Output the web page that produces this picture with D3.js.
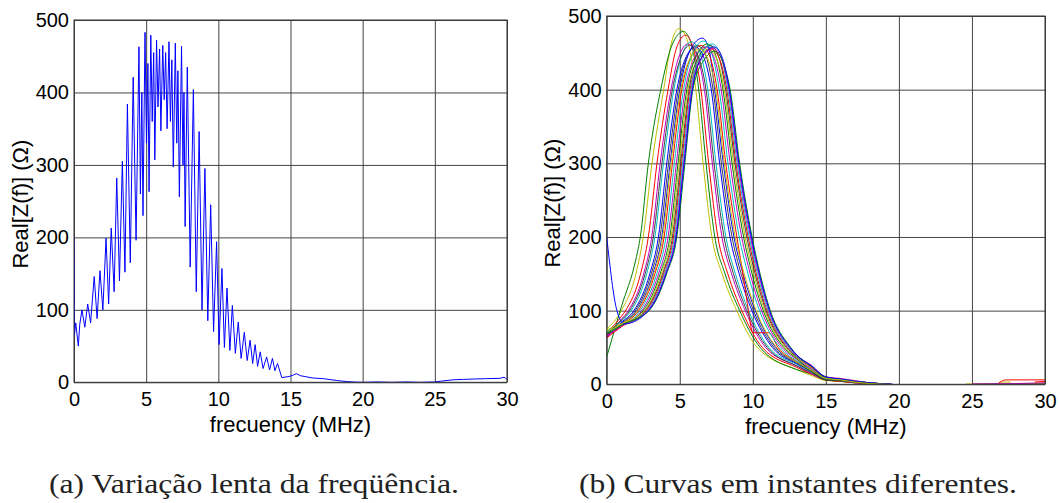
<!DOCTYPE html>
<html>
<head>
<meta charset="utf-8">
<script src="https://cdn.jsdelivr.net/npm/d3@7"></script>
<style>
body{margin:0;background:#fff;}
svg{display:block;}
.tick text{font-family:"Liberation Sans",Arial,sans-serif;font-size:20px;fill:#000;}
.lbl{font-family:"Liberation Sans",Arial,sans-serif;font-size:22px;fill:#000;}
.cap{font-family:"Liberation Serif","DejaVu Serif",serif;font-size:28px;fill:#222;}
</style>
</head>
<body>
<svg id="fig" width="1060" height="503"></svg>
<script>
// axis ticks and texts
const xTicks = [0, 5, 10, 15, 20, 25, 30];
const yTicks = [0, 100, 200, 300, 400, 500];
const xLabel = "frecuency (MHz)";
const yLabel = "Real[Z(f)] (Ω)";
const captions = ["(a) Variação lenta da freqüência.", "(b) Curvas em instantes diferentes."];

const slowSweep = [
  [0,200],[0.03,65],[0.12,82],[0.3,50],[0.4,80],[0.55,100],[0.75,76],[0.95,108],[1.15,82],[1.4,146],
  [1.6,88],[1.8,154],[2.0,100],[2.22,199],[2.4,108],[2.58,213],[2.78,125],[2.96,282],[3.15,140],[3.35,305],
  [3.53,152],[3.7,384],[3.9,165],[4.1,421],[4.3,196],[4.5,463],[4.6,260],[4.7,400],[4.78,230],[4.92,483],
  [5.02,330],[5.12,440],[5.2,263],[5.32,479],[5.42,360],[5.52,455],[5.6,307],[5.72,472],[5.82,380],[5.93,460],
  [6.02,347],[6.15,465],[6.25,390],[6.35,455],[6.45,350],[6.58,470],[6.68,360],[6.78,445],[6.88,297],[7.02,468],
  [7.12,330],[7.2,430],[7.3,256],[7.45,464],[7.55,300],[7.62,400],[7.7,215],[7.85,435],[8.05,159],[8.27,404],
  [8.47,125],[8.67,346],[8.87,100],[9.07,295],[9.27,85],[9.47,245],[9.67,70],[9.88,194],[10.05,52],[10.25,157],
  [10.42,48],[10.6,130],[10.8,44],[10.97,106],[11.18,40],[11.38,83],[11.58,33],[11.8,69],[12.0,30],[12.2,58],
  [12.38,26],[12.55,52],[12.72,22],[12.9,42],[13.1,19],[13.35,35],[13.55,17],[13.75,33],[13.92,16],[14.1,26],
  [14.4,6.5],[14.9,8],[15.2,10],[15.4,12],[15.7,9],[16.0,8],[16.5,6],[17.3,5],[18.2,2.5],[18.9,1],
  [19.5,0.3],[20,0],[21,0.5],[22,0],[23,0.5],[24,0],[25,0.5],[25.4,1.5],[26.3,3.5],[27,4],
  [27.7,4.5],[28.5,5],[29.5,5.5],[29.8,7],[30,4]
];

// (b) curves at different instants, [MHz, ohm]; null = gap
const curveColors = ["#bfbf00","#008000","#ff0000","#bf00bf","#00bfbf","#0000ff","#404040","#0000ff","#ff0000","#00bfbf",
  "#bf00bf","#008000","#bfbf00","#404040","#ff0000","#00bfbf","#bf00bf","#008000","#0000ff","#404040","#bfbf00"];
const curvesB = [
  [[0,75],[1,100],[2,150],[2.5,200],[3.1,300],[3.9,400],[4.45,465],[4.95,483],[5.5,468],[6.1,400],[6.6,300],[7.2,200],[7.9,150],[8.9,100],[10.3,50],[13,20],[14,12],[15,5],[16,4],[17,2],[18,1],[19,0],[20,null],[24.6,0.5],[26.8,0.5],[26.9,3],[27.6,3],[27.7,1],[30,1]],
  [[0,37],[1,105],[2,170],[2.3,200],[2.85,300],[3.7,400],[4.5,462],[5.25,479],[5.8,462],[6.3,400],[6.8,300],[7.4,200],[8.1,150],[9.1,100],[10.5,50],[13,20],[14,14],[15,6],[16,4],[17,2],[18,1],[19,0],[20,null],[25,0],[30,0.5]],
  [[0,70],[1,92],[1.29,100],[2.32,150],[2.85,200],[3.44,300],[4.2,400],[4.8,458],[5.4,474],[5.9,458],[6.45,400],[6.98,300],[7.61,200],[8.29,150],[9.25,100],[10.65,50],[13,23],[14,14],[15,6],[16,4],[17,2],[18,1],[19,0],[20,null],[26.8,1],[27.3,6],[30,6]],
  [[0,66],[1,88],[1.48,100],[2.53,150],[3.08,200],[3.66,300],[4.4,400],[5.0,448],[5.56,462],[6.1,450],[6.69,400],[7.23,300],[7.89,200],[8.55,150],[9.48,100],[10.88,50],[13,25],[14,15],[15,6],[16,5],[17,2],[18,1],[19,0],[20,null],[25,0.5],[28,1],[30,2]],
  [[0,72],[1,86],[1.67,100],[2.74,150],[3.3,200],[3.89,300],[4.6,400],[5.2,450],[5.81,465],[6.35,452],[6.92,400],[7.48,300],[8.16,200],[8.81,150],[9.71,100],[11.1,50],[13,27],[14,17],[15,7],[16,5],[17,3],[18,1],[19,0]],
  [[0,64],[1,84],[1.86,100],[2.95,150],[3.54,200],[4.11,300],[4.8,400],[5.45,445],[6.05,458],[6.6,446],[7.16,400],[7.73,300],[8.44,200],[9.07,150],[9.94,100],[11.34,50],[13,28],[14,18],[15,7],[16,5],[17,3],[18,1],[19,0]],
  [[0,68],[1,83],[1.95,100],[3.05,150],[3.65,200],[4.23,300],[4.9,400],[5.55,447],[6.18,460],[6.75,448],[7.28,400],[7.85,300],[8.58,200],[9.2,150],[10.05,100],[11.45,50],[13,29],[14,18],[15,7],[16,5],[17,3],[18,1],[19,0]],
  [[0,70],[1,82],[2.05,100],[3.16,150],[3.77,200],[4.34,300],[5.0,400],[5.75,455],[6.55,470],[7.0,455],[7.39,400],[7.98,300],[8.71,200],[9.33,150],[10.17,100],[11.57,50],[13,30],[14,19],[15,8],[16,6],[17,3],[18,1],[19.2,0]],
  [[0,66],[1,81],[2.18,100],[3.3,150],[3.93,200],[4.5,300],[5.14,400],[5.8,446],[6.47,460],[7.0,448],[7.56,400],[8.15,300],[8.91,200],[9.4,140],[9.7,100],[10.0,70],[11.1,70],[11.73,50],[13,31],[14,20],[15,8],[16,6],[17,3],[18,1],[19.2,0],[20,null],[29.3,3],[30,4]],
  [[0,72],[1,80],[2.29,100],[3.43,150],[4.06,200],[4.63,300],[5.26,400],[5.95,452],[6.62,466],[7.15,452],[7.7,400],[8.3,300],[9.07,200],[9.67,150],[10.46,100],[11.86,50],[13,32],[14,21],[15,8],[16,6],[17,3],[18,1.5],[19.2,0]],
  [[0,65],[1,79],[2.41,100],[3.55,150],[4.2,200],[4.77,300],[5.38,400],[6.05,445],[6.76,458],[7.3,446],[7.84,400],[8.45,300],[9.24,200],[9.82,150],[10.6,100],[12.0,50],[13,34],[14,22],[15,9],[16,7],[17,3],[18,1.5],[19.3,0]],
  [[0,70],[1,80],[2.5,100],[3.66,150],[4.32,200],[4.88,300],[5.48,400],[6.2,448],[6.89,462],[7.4,450],[7.96,400],[8.58,300],[9.37,200],[9.95,150],[10.72,100],[12.12,50],[13,35],[14,18],[15,6],[16,5],[17,3],[18,1],[19.3,0]],
  [[0,74],[1,82],[2.58,100],[3.74,150],[4.41,200],[4.97,300],[5.56,400],[6.3,442],[6.98,455],[7.5,443],[8.05,400],[8.68,300],[9.48,200],[10.06,150],[10.81,100],[12.21,50],[13,36],[14,23],[15,9],[16,7],[17,3],[18,1.5],[19.4,0]],
  [[0,67],[1,79],[2.65,100],[3.83,150],[4.5,200],[5.06,300],[5.64,400],[6.35,447],[7.08,460],[7.6,448],[8.14,400],[8.78,300],[9.59,200],[10.16,150],[10.9,100],[12.3,50],[13,37],[14,24],[15,9],[16,7],[17,4],[18,2],[19.4,0]],
  [[0,63],[1,78],[2.71,100],[3.89,150],[4.57,200],[5.13,300],[5.7,400],[6.45,442],[7.16,455],[7.7,443],[8.22,400],[8.85,300],[9.68,200],[10.24,150],[10.97,100],[12.37,50],[13,38],[14,24],[15,10],[16,7],[17,4],[18,2],[19.5,0]],
  [[0,70],[1,80],[2.77,100],[3.95,150],[4.64,200],[5.19,300],[5.76,400],[6.5,449],[7.23,462],[7.75,450],[8.29,400],[8.93,300],[9.76,200],[10.32,150],[11.04,100],[12.44,50],[13,38],[14,25],[15,10],[16,7],[17,4],[18,2],[19.5,0]],
  [[0,66],[1,79],[2.82,100],[4.02,150],[4.71,200],[5.26,300],[5.82,400],[6.55,444],[7.3,456],[7.82,444],[8.36,400],[9.0,300],[9.84,200],[10.4,150],[11.11,100],[12.51,50],[13,39],[14,26],[15,10],[16,8],[17,5],[18,2],[19.5,0]],
  [[0,68],[1,80],[2.9,100],[4.1,150],[4.8,200],[5.35,300],[5.9,400],[6.65,440],[7.4,452],[7.9,440],[8.45,400],[9.1,300],[9.95,200],[10.5,150],[11.2,100],[12.6,50],[13,40],[14,25],[15,9],[16,7],[17,4],[18,2],[19.5,0]],
  [[0,200],[0.7,100],[1.2,82],[2.86,100],[4.06,150],[4.75,200],[5.3,300],[5.86,400],[6.6,447],[7.35,458],[7.86,446],[8.4,400],[9.05,300],[9.9,200],[10.45,150],[11.15,100],[12.55,50],[13,40],[14,25],[15,10],[16,7],[17,4],[18,2],[19.6,0]],
  [[0,69],[1,87],[1.57,100],[2.63,150],[3.19,200],[3.78,300],[4.5,400],[5.1,445],[5.68,460],[6.22,447],[6.8,400],[7.35,300],[8.03,200],[8.68,150],[9.59,100],[10.99,50],[13,25],[14,16],[15,6],[16,5],[17,3],[18,1],[19,0]],
  [[0,71],[1,82],[2.1,100],[3.22,150],[3.83,200],[4.4,300],[5.06,400],[5.7,442],[6.37,455],[6.9,443],[7.46,400],[8.05,300],[8.8,200],[9.41,150],[10.23,100],[11.63,50],[13,30],[14,19],[15,8],[16,6],[17,3],[18,1],[19.2,0]]
];

const svg = d3.select("#fig");

function panel(box, series, colors, curve, capText, capBox, id) {
  const x = d3.scaleLinear().domain([0, 30]).range([box.left, box.right]);
  const y = d3.scaleLinear().domain([0, 500]).range([box.bottom, box.top]);
  const w = box.right - box.left, h = box.bottom - box.top;

  // grid through the axes
  svg.append("g")
    .attr("transform", `translate(0,${box.bottom})`)
    .call(d3.axisBottom(x).tickValues(xTicks).tickSize(-h).tickPadding(9.5))
    .call(g => {
      g.select(".domain").remove();
      g.selectAll(".tick line").attr("stroke", "#444");
      g.attr("font-family", null).attr("font-size", null);
    });
  svg.append("g")
    .attr("transform", `translate(${box.left},0)`)
    .call(d3.axisLeft(y).tickValues(yTicks).tickSize(-w).tickPadding(5))
    .call(g => {
      g.select(".domain").remove();
      g.selectAll(".tick line").attr("stroke", "#444");
      g.attr("font-family", null).attr("font-size", null);
    });

  svg.append("clipPath").attr("id", id)
    .append("rect").attr("x", box.left).attr("y", box.top).attr("width", w).attr("height", h);

  const line = d3.line().defined(d => d[1] != null).curve(curve).x(d => x(d[0])).y(d => y(d[1]));
  svg.append("g").attr("clip-path", `url(#${id})`)
    .selectAll("path").data(series).join("path")
    .attr("fill", "none")
    .attr("stroke", (d, i) => colors[i % colors.length])
    .attr("stroke-width", 1)
    .attr("d", line);

  // box
  svg.append("rect")
    .attr("x", box.left).attr("y", box.top).attr("width", w).attr("height", h)
    .attr("fill", "none").attr("stroke", "#333").attr("stroke-width", 1);

  svg.append("text").attr("class", "lbl")
    .attr("x", (box.left + box.right) / 2).attr("y", box.bottom + 49.5)
    .attr("text-anchor", "middle").text(xLabel);
  svg.append("text").attr("class", "lbl")
    .attr("transform", `translate(${box.left - 46.5},${(box.top + box.bottom) / 2 + 3}) rotate(-90)`)
    .attr("text-anchor", "middle").text(yLabel);

  svg.append("text").attr("class", "cap")
    .attr("x", capBox.x).attr("y", capBox.y)
    .attr("textLength", capBox.w).attr("lengthAdjust", "spacingAndGlyphs")
    .text(capText);
}

panel({left: 74, right: 507, top: 20, bottom: 382.3}, [slowSweep], ["#0000ff"], d3.curveLinear,
  captions[0], {x: 49, y: 493, w: 410}, "clipA");
panel({left: 606.7, right: 1045, top: 16, bottom: 384.3}, curvesB, curveColors, d3.curveMonotoneX,
  captions[1], {x: 579, y: 493, w: 438}, "clipB");
</script>
</body>
</html>
